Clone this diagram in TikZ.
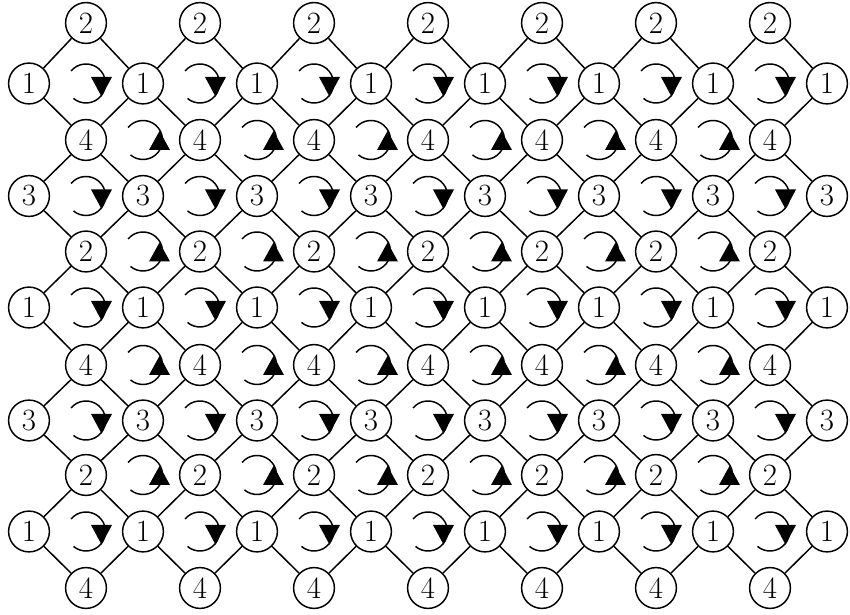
\documentclass[tikz,border=0pt]{standalone}
\usepackage{tikz}

\begin{document}
\begin{tikzpicture}[
    x=0.025cm, y=0.025cm,
    site/.style={circle, draw, line width=1.05pt, minimum size=1.02cm, inner sep=0pt, font=\fontsize{22}{22}\selectfont},
    bond/.style={line width=1.05pt},
    loopline/.style={line width=1.05pt},
    cw/.pic={
        \draw[loopline] (140:19.5) arc[start angle=140, end angle=-130, radius=19.5];
        \fill (5,6.5) -- (26,6.5) -- (15.5,-13) -- cycle;
    },
    ccw/.pic={
        \draw[loopline] (140:19.5) arc[start angle=140, end angle=-130, radius=19.5];
        \fill (6,-10) -- (27,-10) -- (16.5,9) -- cycle;
    },
]

\useasboundingbox (0,0) rectangle (850,-615);

\foreach \r/\py/\lab in {0/23/2, 1/83.5/1, 2/140/4, 3/196/3, 4/251.5/2, 5/307.5/1,
                         6/365/4, 7/420.5/3, 8/475/2, 9/531.5/1, 10/588/4}{
    \ifodd\r
        \foreach \i in {0,2,...,14}
            \node[site] (n-\r-\i) at (29+57*\i, -\py) {\lab};
        \foreach \i in {1,3,...,13}
            \pic at (29+57*\i, -\py) {cw};
    \else
        \foreach \i in {1,3,...,13}
            \node[site] (n-\r-\i) at (29+57*\i, -\py) {\lab};
        \ifnum\r>0 \ifnum\r<10
            \foreach \i in {2,4,...,12}
                \pic at (29+57*\i, -\py) {ccw};
        \fi\fi
    \fi
}

\foreach \r in {0,...,9}{
    \pgfmathtruncatemacro\rr{\r+1}
    \pgfmathtruncatemacro\s{mod(\r+1,2)}
    \pgfmathtruncatemacro\t{\s+2}
    \foreach \i in {\s,\t,...,14}{
        \pgfmathtruncatemacro\il{\i-1}
        \pgfmathtruncatemacro\ir{\i+1}
        \ifnum\i>0 \draw[bond] (n-\r-\i) -- (n-\rr-\il); \fi
        \ifnum\i<14 \draw[bond] (n-\r-\i) -- (n-\rr-\ir); \fi
    }
}

\end{tikzpicture}
\end{document}
